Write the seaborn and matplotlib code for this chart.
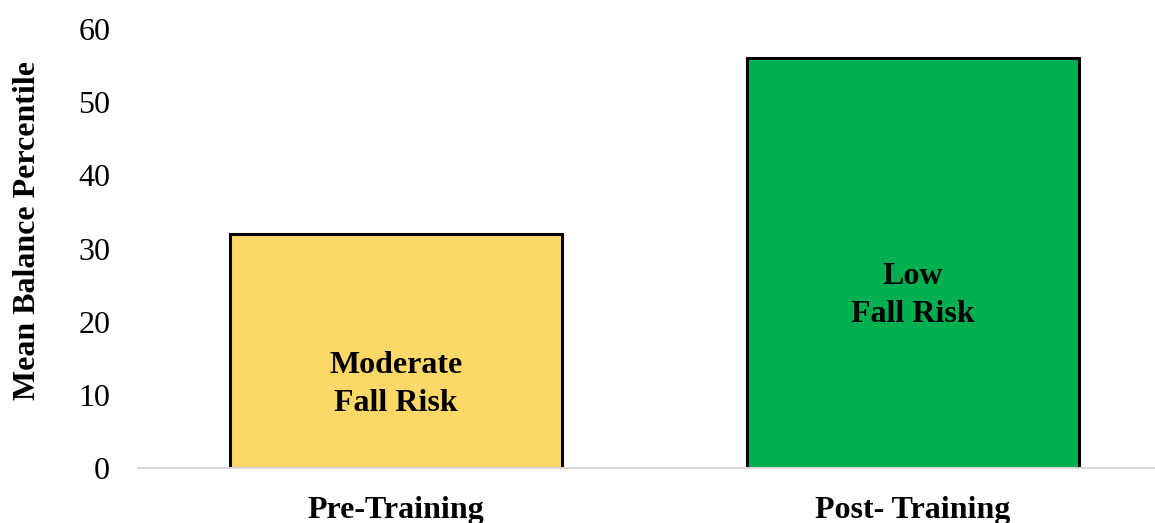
import matplotlib
matplotlib.use("Agg")
import matplotlib.pyplot as plt
import seaborn as sns
import pandas as pd

categories = ["Pre-Training", "Post- Training"]
values = [32, 56]
bar_labels = ["Moderate\nFall Risk", "Low\nFall Risk"]
label_y = [11.4, 23.6]
colors = ["#FDD866", "#00B050"]
yticks = [0, 10, 20, 30, 40, 50, 60]

sns.set_theme(style="white")
plt.rcParams['font.family'] = ['Liberation Serif', 'DejaVu Serif']
plt.rcParams['text.color'] = 'black'
plt.rcParams['axes.labelcolor'] = 'black'
plt.rcParams['xtick.color'] = 'black'
plt.rcParams['ytick.color'] = 'black'

df = pd.DataFrame({"cat": categories, "val": values})

fig = plt.figure(figsize=(11.55, 5.23), dpi=100)
W, H = 1155, 523
ax = fig.add_axes([138 / W, 1 - 468 / H, (1155 - 138) / W, (468 - 29) / H])

sns.barplot(data=df, x="cat", y="val", hue="cat", palette=colors, legend=False,
            width=0.643, edgecolor="black", linewidth=2.2, ax=ax, saturation=1)

ax.set_xlim(-0.5, 1.469)
ax.set_ylim(0, 60)
ax.set_yticks(yticks)
ax.set_yticklabels([str(t) for t in yticks], fontsize=23)
ax.tick_params(axis="y", length=0, pad=20)
ax.tick_params(axis="x", length=0, pad=20)
for lbl in ax.get_xticklabels():
    lbl.set_fontsize(23)
    lbl.set_fontweight("bold")

ax.set_xlabel("")
ax.set_ylabel("Mean Balance Percentile", fontsize=23, fontweight="bold")
ax.yaxis.set_label_coords(-0.094, 0.54)

for s in ["top", "right", "left"]:
    ax.spines[s].set_visible(False)
ax.spines["bottom"].set_color("#d9d9d9")
ax.spines["bottom"].set_linewidth(1.5)

for i, (t, yv) in enumerate(zip(bar_labels, label_y)):
    ax.text(i, yv, t, ha="center", va="center", fontsize=23, fontweight="bold",
            linespacing=1.4, color="black")

fig.savefig("out.png", dpi=100)
